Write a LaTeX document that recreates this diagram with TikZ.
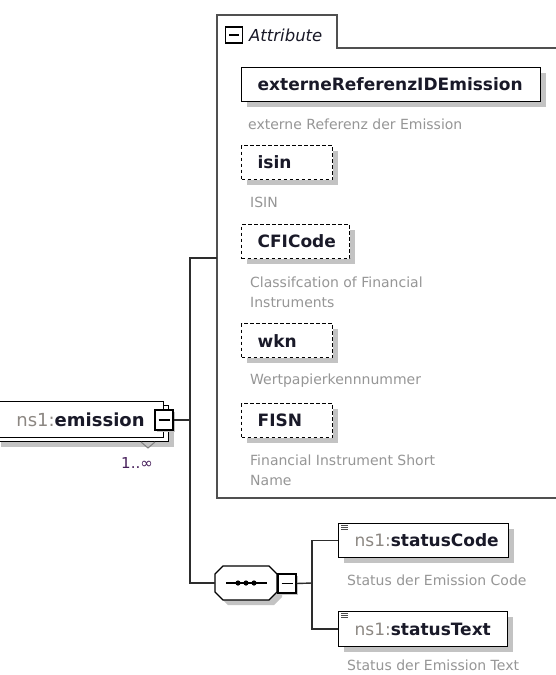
\documentclass[tikz,border=0pt]{standalone}
\usepackage{fontspec}
\setmainfont{DejaVu Sans}
\usetikzlibrary{shadows}
\definecolor{descc}{RGB}{150,150,150}
\definecolor{prefc}{RGB}{140,135,130}
\definecolor{namec}{RGB}{25,25,40}
\definecolor{linec}{RGB}{45,45,45}
\definecolor{contc}{RGB}{80,80,80}
\definecolor{shadc}{RGB}{195,195,195}
\definecolor{multc}{RGB}{70,30,90}
\begin{document}
\begin{tikzpicture}[x=1pt,y=-1pt,
  shad/.style={drop shadow={shadow xshift=5pt,shadow yshift=-5pt,fill=shadc,opacity=1}},
  smallshad/.style={drop shadow={shadow xshift=2pt,shadow yshift=-2pt,fill=shadc,opacity=1}},
  namebox/.style={draw=black, line width=1.3pt, fill=white, shad, inner xsep=0pt, inner ysep=0pt,
    minimum height=34pt, align=left, anchor=north west,
    font=\fontsize{17}{20}\selectfont\bfseries, text=namec},
  attrpad/.style={execute at begin node=\hspace*{16pt}},
  optbox/.style={dash pattern=on 3.5pt off 2.5pt},
  desc/.style={anchor=west, text=descc, font=\fontsize{14}{20}\selectfont, align=left, inner sep=0pt},
  minusbox/.style={draw=black, line width=1.2pt, fill=white, smallshad, inner sep=0pt,
    minimum width=18pt, minimum height=19pt,
    path picture={\draw[line width=1.2pt] ([xshift=3.5pt]path picture bounding box.west) -- ([xshift=-3.5pt]path picture bounding box.east);}},
  conn/.style={draw=linec, line width=1.4pt},
]
\useasboundingbox (0,0) rectangle (556,675);
\fill[white] (0,0) rectangle (556,675);

% attribute container
\draw[contc, line width=1.3pt] (560,48) -- (337,48) -- (337,15) -- (217,15) -- (217,498) -- (560,498);
\coordinate (attrL) at (217,258);
\node[draw=black, line width=1.2pt, fill=white, inner sep=0pt, minimum width=17pt, minimum height=16pt,
  path picture={\draw[line width=1.2pt] ([xshift=3.5pt]path picture bounding box.west) -- ([xshift=-3.5pt]path picture bounding box.east);}] (attrminus) at (234,35) {};
\node[anchor=west, inner sep=0pt, font=\itshape\fontsize{16.5}{20}\selectfont, text=namec] (attrlbl) at (249,35) {Attribute};

% attributes
\node[namebox, attrpad, text width=299pt] (ext) at (241,67) {externeReferenzIDEmission};
\node[desc] (extd) at (248,124) {externe Referenz der Emission};
\node[namebox, attrpad, optbox, text width=91pt] (isin) at (241,145) {isin};
\node[desc] (isind) at (250,202) {ISIN};
\node[namebox, attrpad, optbox, text width=108pt] (cfi) at (241,224) {CFICode};
\node[desc] (cfid) at (250,292) {Classifcation of Financial\\Instruments};
\node[namebox, attrpad, optbox, text width=91pt] (wkn) at (241,323) {wkn};
\node[desc] (wknd) at (250,381) {Wertpapierkennnummer};
\node[namebox, attrpad, optbox, text width=91pt] (fisn) at (241,403) {FISN};
\node[desc] (fisnd) at (250,470) {Financial Instrument Short\\Name};

% emission element (multiple occurrence)
\node[draw=black, line width=1.3pt, fill=white, shad, minimum width=173pt, minimum height=36pt, anchor=north west] (emback) at (-5,405) {};
\node[draw=black, line width=1.3pt, fill=white, anchor=north west, minimum height=36pt,
  inner xsep=19pt, inner ysep=0pt, text width=135pt, align=right,
  font=\fontsize{18}{20}\selectfont\bfseries, text=namec] (emission) at (-10,401) {{\color{prefc}\mdseries ns1:}emission};
\node[minusbox, minimum height=20pt] (emminus) at (164,420) {};
\draw[gray, line width=1pt] (141,442) -- (148,448) -- (155,442);
\node[text=multc, inner sep=0pt, font=\fontsize{15}{17}\selectfont] (mult) at (137,463) {1..∞};

% sequence
\node[minimum width=62pt, minimum height=34pt, inner sep=0pt] (seq) at (246,583) {};
\fill[shadc] (228,571) -- (274,571) -- (282,579) -- (282,597) -- (274,605) -- (228,605) -- (220,597) -- (220,579) -- cycle;
\draw[black, line width=1.3pt, fill=white] (223,566) -- (269,566) -- (277,574) -- (277,592) -- (269,600) -- (223,600) -- (215,592) -- (215,574) -- cycle;
\draw[black, line width=1.3pt] (226,583) -- (267,583);
\foreach \dx in {238,246,254} \fill[black] (\dx,583) circle (2.6pt);
\node[minusbox] (seqminus) at (287,583.5) {};

% children
\node[namebox, text width=170pt] (statusCode) at (338,523) {\hspace*{16pt}{\color{prefc}\mdseries ns1:}statusCode};
\node[desc] (scd) at (347,580) {Status der Emission Code};
\node[namebox, text width=169pt, minimum height=35pt] (statusText) at (338,611) {\hspace*{16pt}{\color{prefc}\mdseries ns1:}statusText};
\node[desc] (std) at (347,665) {Status der Emission Text};
\foreach \yy in {0,2,4} {
  \draw[black!70, line width=0.8pt] (341,525.5+\yy) -- (348,525.5+\yy);
  \draw[black!70, line width=0.8pt] (341,613.5+\yy) -- (348,613.5+\yy);
}

% connectors
\coordinate (j1) at (190,420);
\coordinate (j2) at (312,583);
\draw[conn] (emminus.east) -- (j1);
\draw[conn] (attrL) -| (j1) |- (seq.west);
\draw[conn] (seqminus.east) -- (j2);
\draw[conn] (statusCode.west) -| (j2) |- (statusText.west);
\end{tikzpicture}
\end{document}
